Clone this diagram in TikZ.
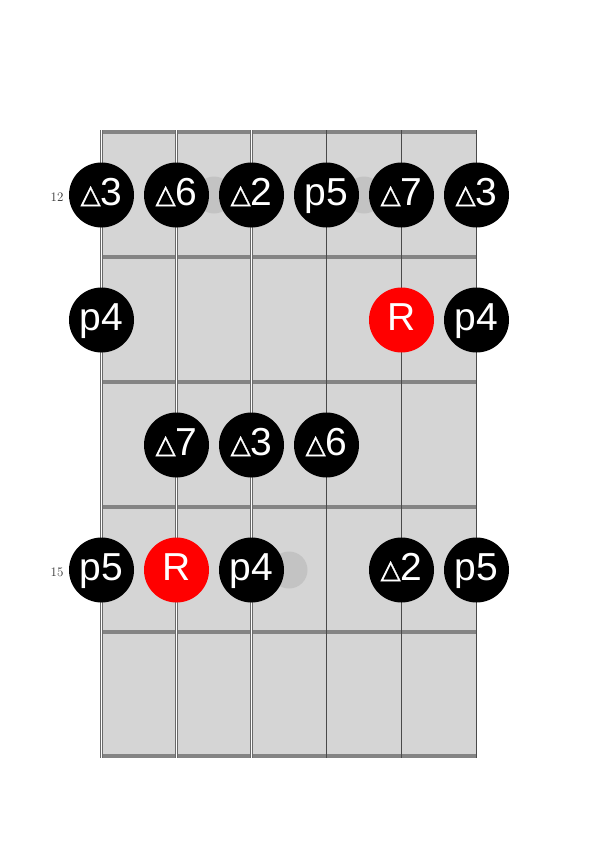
\documentclass[tikz,border=0pt]{standalone}
\usepackage{fontspec}
\newfontfamily\dotfont{Liberation Sans}
\newfontfamily\trifont[FakeBold=1.6]{DejaVu Sans}
\definecolor{board}{HTML}{D5D5D5}
\definecolor{fretc}{HTML}{848484}
\definecolor{inlay}{HTML}{C3C3C3}
\definecolor{strc}{HTML}{4A4A4A}
\definecolor{rootred}{HTML}{FF0000}
\newcommand{\tr}{\raisebox{2.5pt}{\trifont\fontsize{26}{26}\selectfont △}}
\begin{document}
\begin{tikzpicture}[x=1pt,y=-1pt,
  dot/.style={circle,fill=black,minimum size=65pt,inner sep=0pt,text=white,
    font=\dotfont\fontsize{39}{39}\selectfont,text height=21pt,text depth=0pt},
  rootdot/.style={dot,fill=rootred},
  inlaydot/.style={circle,fill=inlay,minimum size=37pt,inner sep=0pt},
  fretline/.style={fretc,line width=3.5pt},
  wound/.style={fretc!80!black,line width=3.2pt},
  woundcore/.style={white,line width=1.4pt},
  plain/.style={strc,line width=0.9pt},
  fretnum/.style={font=\fontsize{13}{15}\selectfont,text=black!80}]
\useasboundingbox (0,0) rectangle (600,849);
% board
\fill[board] (101.5,132) rectangle (476.5,756);
% inlays
\node[inlaydot] (in12a) at (214,195) {};
\node[inlaydot] (in12b) at (364,195) {};
\node[inlaydot] (in15) at (289,570) {};
% frets
\foreach \y in {132,257,382,507,632,756}
  \draw[fretline] (101.5,\y) -- (476.5,\y);
% strings
\foreach \x in {101.5,176.5,251.5}{
  \draw[wound] (\x,130) -- (\x,758);
  \draw[woundcore] (\x,130) -- (\x,758);
}
\foreach \x in {326.5,401.5,476.5}
  \draw[plain] (\x,130) -- (\x,758);
% fret numbers
\node[fretnum] (f12) at (57,197.5) {12};
\node[fretnum] (f15) at (57,572.5) {15};
% row 12
\node[dot] (a1) at (101.5,195) {\tr3};
\node[dot] (a2) at (176.5,195) {\tr6};
\node[dot] (a3) at (251.5,195) {\tr2};
\node[dot] (a4) at (326.5,195) {p5};
\node[dot] (a5) at (401.5,195) {\tr7};
\node[dot] (a6) at (476.5,195) {\tr3};
% row 13
\node[dot] (b1) at (101.5,320) {p4};
\node[rootdot] (b5) at (401.5,320) {R};
\node[dot] (b6) at (476.5,320) {p4};
% row 14
\node[dot] (c2) at (176.5,445) {\tr7};
\node[dot] (c3) at (251.5,445) {\tr3};
\node[dot] (c4) at (326.5,445) {\tr6};
% row 15
\node[dot] (d1) at (101.5,570) {p5};
\node[rootdot] (d2) at (176.5,570) {R};
\node[dot] (d3) at (251.5,570) {p4};
\node[dot] (d5) at (401.5,570) {\tr2};
\node[dot] (d6) at (476.5,570) {p5};
\end{tikzpicture}
\end{document}
